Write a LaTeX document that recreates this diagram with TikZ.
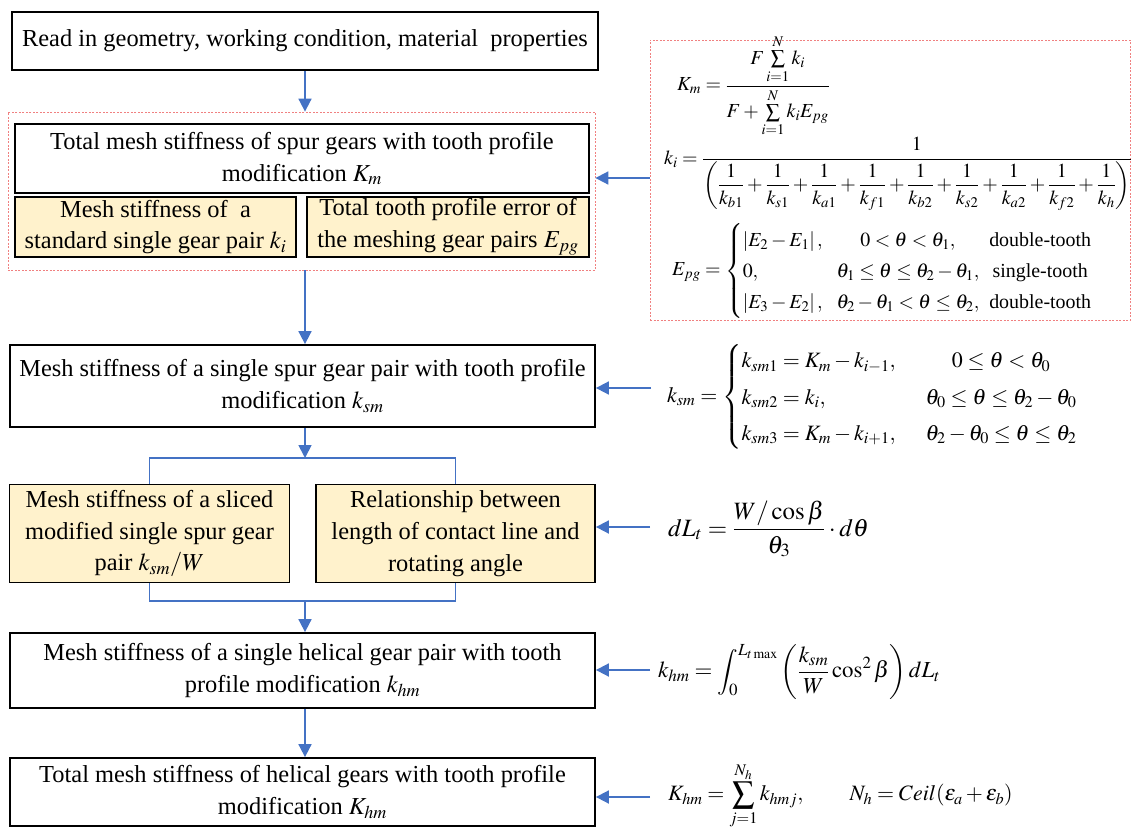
\documentclass[tikz,border=0pt]{standalone}
\usepackage{amsmath}
\usepackage{mathptmx}
\usepackage[no-math]{fontspec}
\setmainfont{Liberation Serif}
\usepackage{tikz}
\usetikzlibrary{positioning,arrows.meta,calc}
\definecolor{flowblue}{HTML}{4472C4}
\definecolor{paleyellow}{HTML}{FFF2CC}
\definecolor{dashred}{HTML}{F08080}

\begin{document}
\begin{tikzpicture}[x=1bp,y=1bp,
  every node/.style={font=\fontsize{24.5}{32}\selectfont},
  box/.style={draw,line width=1.8bp,align=center,inner sep=0pt},
  ybox/.style={box,fill=paleyellow},
  grp/.style={draw=dashred,dash pattern=on 2bp off 1.5bp,line width=0.8bp,inner sep=0pt},
  eq/.style={anchor=west,inner sep=0pt,font=\fontsize{20}{24}\selectfont},
  arr/.style={draw=flowblue,line width=1.8bp,-{Triangle[length=13bp,width=13bp]}},
  wire/.style={draw=flowblue,line width=1.8bp}]
  \useasboundingbox (0,0) rectangle (1131,-829);
  % left column
  \node[box,minimum width=586bp,minimum height=58bp] (read) at (305,-41)
    {Read in geometry, working condition, material\ \ properties};
  \node[grp,minimum width=587bp,minimum height=158bp] (grpA) at (301.5,-191) {};
  \node[box,minimum width=574bp,minimum height=69bp] (km) at (302,-158.5)
    {Total mesh stiffness of spur gears with tooth profile\\ modification $K_m$};
  \node[ybox,minimum width=281bp,minimum height=60bp] (kstd) at (155.5,-227)
    {Mesh stiffness of\ \ a\\ standard single gear pair $k_i$};
  \node[ybox,minimum width=282bp,minimum height=60bp] (epg) at (448,-227)
    {Total tooth profile error of\\ the meshing gear pairs $E_{pg}$};
  \node[box,minimum width=585bp,minimum height=82bp] (single) at (302.5,-386)
    {Mesh stiffness of a single spur gear pair with tooth profile\\ modification $k_{sm}$};
  \node[ybox,minimum width=280bp,minimum height=98bp] (slice) at (149.5,-533.5)
    {Mesh stiffness of a sliced\\ modified single spur gear\\ pair $k_{sm}/W$};
  \node[ybox,minimum width=279bp,minimum height=98bp] (relation) at (455.5,-533.5)
    {Relationship between\\ length of contact line and\\ rotating angle};
  \node[box,minimum width=585bp,minimum height=75bp] (helical) at (302.5,-670.5)
    {Mesh stiffness of a single helical gear pair with tooth\\ profile modification $k_{hm}$};
  \node[box,minimum width=585bp,minimum height=68bp] (total) at (302.5,-792)
    {Total mesh stiffness of helical gears with tooth profile\\ modification $K_{hm}$};
  \coordinate (split) at (305,-458);
  \coordinate (merge) at (305,-601);

  % right column
  \node[grp,minimum width=480bp,minimum height=280bp] (grpB) at (890,-180) {};
  \node[eq] (eqKm) at (677,-86)
    {$\displaystyle K_m=\frac{F\sum\limits_{i=1}^{N}k_i}{F+\sum\limits_{i=1}^{N}k_iE_{pg}}$};
  \node[eq] (eqki) at (664,-174)
    {$\displaystyle k_i=\frac{1}{\left(\dfrac{1}{k_{b1}}+\dfrac{1}{k_{s1}}+\dfrac{1}{k_{a1}}+\dfrac{1}{k_{f1}}+\dfrac{1}{k_{b2}}+\dfrac{1}{k_{s2}}+\dfrac{1}{k_{a2}}+\dfrac{1}{k_{f2}}+\dfrac{1}{k_h}\right)}$};
  \node[eq] (eqEpg) at (672,-271)
    {\renewcommand{\arraystretch}{1.3}$E_{pg}=\left\{\begin{array}{@{}l@{\hspace{14bp}}c@{\hspace{10bp}}c}
      \left|E_2-E_1\right|, & 0<\theta<\theta_1, & \text{double-tooth}\\
      0, & \theta_1\le\theta\le\theta_2-\theta_1, & \text{single-tooth}\\
      \left|E_3-E_2\right|, & \theta_2-\theta_1<\theta\le\theta_2, & \text{double-tooth}
    \end{array}\right.$};
  \node[eq,font=\fontsize{22}{26}\selectfont] (eqksm) at (667,-397)
    {\renewcommand{\arraystretch}{1.4}$k_{sm}=\left\{\begin{array}{@{}l@{\hspace{30bp}}c}
      k_{sm1}=K_m-k_{i-1}, & 0\le\theta<\theta_0\\
      k_{sm2}=k_i, & \theta_0\le\theta\le\theta_2-\theta_0\\
      k_{sm3}=K_m-k_{i+1}, & \theta_2-\theta_0\le\theta\le\theta_2
    \end{array}\right.$};
  \node[eq,font=\fontsize{25}{30}\selectfont] (eqdL) at (668,-529)
    {$\displaystyle dL_t=\frac{W/\cos\beta}{\theta_3}\cdot d\theta$};
  \node[eq,font=\fontsize{23}{28}\selectfont] (eqkhm) at (658,-672)
    {$\displaystyle k_{hm}=\int_0^{L_{t\max}}\left(\frac{k_{sm}}{W}\cos^2\beta\right)dL_t$};
  \node[eq,font=\fontsize{22}{26}\selectfont] (eqKhm) at (668,-796)
    {$\displaystyle K_{hm}=\sum_{j=1}^{N_h}k_{hmj},\qquad N_h=Ceil(\varepsilon_a+\varepsilon_b)$};

  % connectors
  \draw[arr] (read.south) -- (read.south |- grpA.north);
  \draw[arr] (grpB.west |- 0,-178) -- (grpA.east |- 0,-178);
  \draw[arr] (grpA.south -| read.south) -- (single.north -| read.south);
  \draw[arr] ([xshift=-16bp]eqksm.west |- 0,-388) -- (single.east |- 0,-388);
  \draw[arr] (single.south -| split) -- (split);
  \draw[wire] (slice.north) |- (split) -| (relation.north);
  \draw[arr] ([xshift=-18bp]eqdL.west |- 0,-527) -- (relation.east |- 0,-527);
  \draw[wire] (slice.south) |- (merge) -| (relation.south);
  \draw[arr] (merge) -- (helical.north -| merge);
  \draw[arr] ([xshift=-8bp]eqkhm.west |- 0,-670) -- (helical.east |- 0,-670);
  \draw[arr] ([xshift=-18bp]eqKhm.west |- 0,-797) -- (total.east |- 0,-797);
  \draw[arr] (helical.south -| merge) -- (total.north -| merge);
\end{tikzpicture}
\end{document}
